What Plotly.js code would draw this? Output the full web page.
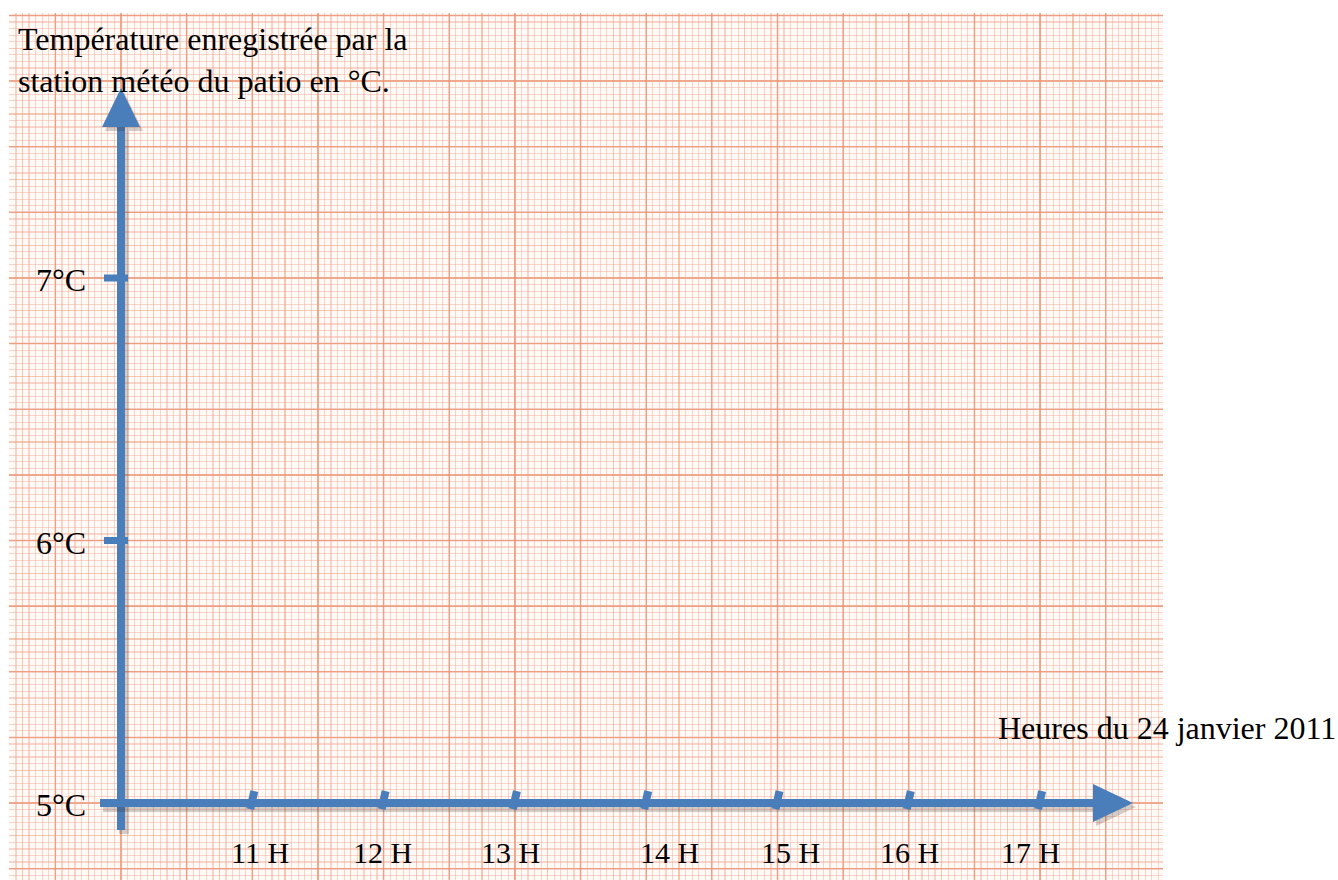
<!DOCTYPE html>
<html>
<head>
<meta charset="utf-8">
<script src="https://cdn.plot.ly/plotly-3.0.1.min.js"></script>
<style>
  html, body { margin: 0; padding: 0; background: #ffffff; }
  #chart { width: 1338px; height: 880px; }
</style>
</head>
<body>
<div id="chart"></div>
<script>
// ---- Data ----
const hours = [11, 12, 13, 14, 15, 16, 17];
const hourLabels = ['11 H', '12 H', '13 H', '14 H', '15 H', '16 H', '17 H'];
const temps = [5, 6, 7];
const tempLabels = ['5°C', '6°C', '7°C'];
const xAxisTitle = 'Heures du 24 janvier 2011';
const yAxisTitle = 'Température enregistrée par la<br>station météo du patio en °C.';
const originHour = 10;
const originTemp = 5;

// ---- Layout geometry (styling) ----
const W = 1338, H = 880;
const M = { l: 9, r: 175, t: 13, b: 0 };
const plotW = W - M.l - M.r, plotH = H - M.t - M.b;
const xRange = [9.147, 17.936];
const yRange = [4.7067, 8.0095];
const pxToX = px => xRange[0] + (px - M.l) / plotW * (xRange[1] - xRange[0]);
const pyToY = py => yRange[1] - (py - M.t) / plotH * (yRange[1] - yRange[0]);
const xPerPx = (xRange[1] - xRange[0]) / plotW;
const yPerPx = (yRange[1] - yRange[0]) / plotH;

const BLUE = '#4a7ebb';
const SHADOW = 'rgba(60,40,30,0.22)';
const FONT = 'Liberation Serif, Times New Roman, serif';
const HEAVY = 'rgba(226,115,90,0.6)';

const shapes = [];
// heavy (every 10 small squares) grid lines
for (let k = -2; k <= 20; k++) {
  const x = originHour + k * 0.5;
  if (x > xRange[0] && x < xRange[1])
    shapes.push({ type: 'line', layer: 'between', xref: 'x', yref: 'paper', x0: x, x1: x, y0: 0, y1: 1,
      line: { color: HEAVY, width: 1.5 } });
}
for (let k = -2; k <= 16; k++) {
  const y = originTemp + k * 0.25;
  if (y > yRange[0] && y < yRange[1])
    shapes.push({ type: 'line', layer: 'between', xref: 'paper', yref: 'y', x0: 0, x1: 1, y0: y, y1: y,
      line: { color: HEAVY, width: 1.5 } });
}

function axisLine(x0, y0, x1, y1, w) {
  shapes.push({ type: 'line', layer: 'above', xref: 'x', yref: 'y',
    x0: x0 + 3 * xPerPx, x1: x1 + 3 * xPerPx, y0: y0 - 4 * yPerPx, y1: y1 - 4 * yPerPx,
    line: { color: SHADOW, width: w + 2 } });
  shapes.push({ type: 'line', layer: 'above', xref: 'x', yref: 'y', x0, x1, y0, y1,
    line: { color: BLUE, width: w } });
}
function tri(pts, color) {
  const d = 'M ' + pts.map(p => p[0] + ',' + p[1]).join(' L ') + ' Z';
  shapes.push({ type: 'path', layer: 'above', xref: 'x', yref: 'y', path: d,
    fillcolor: color, line: { width: 0 } });
}

// Y axis
const yAxisBottom = pyToY(830), yArrowBase = pyToY(127), yArrowTip = pyToY(88);
axisLine(originHour, yAxisBottom, originHour, yArrowBase, 8);
const shx = 3 * xPerPx, shy = 4 * yPerPx;
tri([[originHour - 19 * xPerPx + shx, yArrowBase - shy], [originHour + 19 * xPerPx + shx, yArrowBase - shy], [originHour + shx, yArrowTip - shy]], SHADOW);
tri([[originHour - 19 * xPerPx, yArrowBase], [originHour + 19 * xPerPx, yArrowBase], [originHour, yArrowTip]], BLUE);

// X axis
const xAxisStart = pxToX(100), xArrowBase = pxToX(1093), xArrowTip = pxToX(1133);
axisLine(xAxisStart, originTemp, xArrowBase, originTemp, 8);
tri([[xArrowBase + shx, originTemp + 19 * yPerPx - shy], [xArrowBase + shx, originTemp - 19 * yPerPx - shy], [xArrowTip + shx, originTemp - shy]], SHADOW);
tri([[xArrowBase, originTemp + 19 * yPerPx], [xArrowBase, originTemp - 19 * yPerPx], [xArrowTip, originTemp]], BLUE);

// Y ticks (short bars on the left of the axis)
temps.forEach(t => {
  if (t === originTemp) return;
  shapes.push({ type: 'line', layer: 'above', xref: 'x', yref: 'y',
    x0: originHour - 17 * xPerPx, x1: originHour + 7 * xPerPx, y0: t, y1: t,
    line: { color: BLUE, width: 7 } });
});
// X ticks (small slanted marks)
hours.forEach(h => {
  shapes.push({ type: 'line', layer: 'above', xref: 'x', yref: 'y',
    x0: h - 2 * xPerPx, x1: h + 2 * xPerPx, y0: originTemp - 6 * yPerPx, y1: originTemp + 12 * yPerPx,
    line: { color: BLUE, width: 8 } });
});

const annotations = [];
const labelNudge = [8, -1, -4, 23, 13, 1, -10];
hours.forEach((h, i) => {
  annotations.push({ x: h, y: pyToY(852), xref: 'x', yref: 'y', text: hourLabels[i], showarrow: false,
    xanchor: 'center', yanchor: 'middle', xshift: labelNudge[i],
    font: { family: FONT, size: 30, color: '#000' } });
});
temps.forEach((t, i) => {
  annotations.push({ x: pxToX(88), y: t, xref: 'x', yref: 'y', text: tempLabels[i], showarrow: false,
    xanchor: 'right', yanchor: 'middle', yshift: -2,
    font: { family: FONT, size: 32, color: '#000' } });
});
annotations.push({ x: pxToX(16), y: pyToY(19), xref: 'x', yref: 'y', text: yAxisTitle, showarrow: false,
  xanchor: 'left', yanchor: 'top', align: 'left',
  font: { family: FONT, size: 32, color: '#000' } });
annotations.push({ x: pxToX(996), y: pyToY(728), xref: 'x', yref: 'y', text: xAxisTitle, showarrow: false,
  xanchor: 'left', yanchor: 'middle', align: 'left',
  font: { family: FONT, size: 32, color: '#000' } });

const gridAxis = (tick0, dMed, dMinor, range) => ({
  range, showticklabels: false, ticks: '', zeroline: false, showline: false, fixedrange: true,
  tick0, dtick: dMed, showgrid: true, gridcolor: 'rgba(236,150,110,0.5)', gridwidth: 1.3,
  minor: { tick0, dtick: dMinor, showgrid: true, gridcolor: 'rgba(240,160,140,0.42)', gridwidth: 1.2, ticks: '' }
});

const layout = {
  width: W, height: H, margin: M,
  paper_bgcolor: '#ffffff', plot_bgcolor: '#fffaf6',
  showlegend: false,
  xaxis: gridAxis(originHour, 0.25, 0.05, xRange),
  yaxis: gridAxis(originTemp, 0.125, 0.025, yRange),
  shapes, annotations
};

Plotly.newPlot('chart', [{ x: [], y: [], type: 'scatter', mode: 'lines', hoverinfo: 'skip' }], layout,
  { staticPlot: true, displayModeBar: false });
</script>
</body>
</html>
